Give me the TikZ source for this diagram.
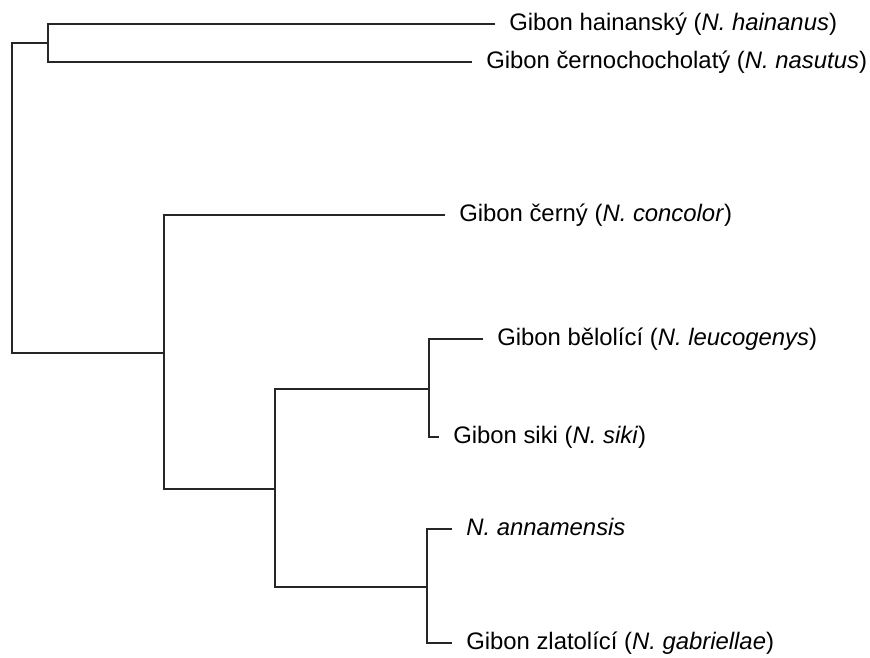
\documentclass[tikz,border=0pt]{standalone}
\usepackage{fontspec}
\setmainfont{Liberation Sans}
\usepackage{tikz}

\begin{document}
\begin{tikzpicture}[x=0.75pt, y=-0.75pt,
                        leaf/.style={anchor=west, inner xsep=10.5pt, inner ysep=0pt,
                            text height=12.5pt, text depth=3.5pt,
                            font=\fontsize{17.9}{20}\selectfont},
                        branch/.style={draw=black!85, line width=1.5pt}]
                        \useasboundingbox (0,0) rectangle (870,657);
                        \node[leaf] (hain) at (495,24) {Gibon hainanský (\textit{N. hainanus})};
                        \node[leaf] (nasu) at (472,62) {Gibon černochocholatý (\textit{N. nasutus})};
                        \node[leaf] (conc) at (445,215) {Gibon černý (\textit{N. concolor})};
                        \node[leaf] (leuc) at (483,339) {Gibon bělolící (\textit{N. leucogenys})};
                        \node[leaf] (siki) at (439,437) {Gibon siki (\textit{N. siki})};
                        \node[leaf] (anna) at (452,529) {\textit{N. annamensis}};
                        \node[leaf] (gabr) at (452,643) {Gibon zlatolící (\textit{N. gabriellae})};
                        \coordinate (root) at (12,198);
                        \coordinate (top) at (48,43);
                        \coordinate (low) at (164,353);
                        \coordinate (south) at (275,489);
                        \coordinate (white) at (429,389);
                        \coordinate (gold) at (427,587);
                        \draw[branch] (top) -| (root) |- (low);
                        \draw[branch] (hain) -| (top) |- (nasu);
                        \draw[branch] (conc) -| (low) |- (south);
                        \draw[branch] (white) -| (south) |- (gold);
                        \draw[branch] (leuc) -| (white) |- (siki);
                        \draw[branch] (anna) -| (gold) |- (gabr);
                    \end{tikzpicture}
\end{document}
